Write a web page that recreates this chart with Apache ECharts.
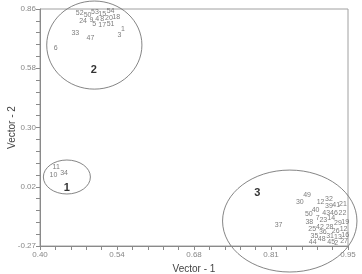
<!DOCTYPE html>
<html>
<head>
<meta charset="utf-8">
<script src="https://cdn.jsdelivr.net/npm/echarts@6/dist/echarts.min.js"></script>
<style>
    html, body { margin: 0; padding: 0; background: #fff; }
    #main { width: 362px; height: 274px; }
</style>
</head>
<body>
<div id="main"></div>
<script>
// cluster 1
var c1Ids = ['11', '10', '34'];
var c1X = [0.429, 0.424, 0.443];
var c1Y = [0.108, 0.069, 0.080];

// cluster 2
var c2Ids = ['52', '50', '53', '15', '54', '24', '9', '4', '8', '20', '18', '5', '17', '51', '1', '3', '33', '47', '6'];
var c2X = [0.471, 0.485, 0.498, 0.511, 0.526, 0.477, 0.492, 0.502, 0.511, 0.523, 0.536, 0.497, 0.511, 0.526, 0.548, 0.542, 0.463, 0.490, 0.428];
var c2Y = [0.840, 0.831, 0.844, 0.836, 0.849, 0.803, 0.808, 0.814, 0.814, 0.817, 0.820, 0.787, 0.782, 0.789, 0.765, 0.735, 0.744, 0.723, 0.676];

// cluster 3
var c3Ids = ['49', '30', '12', '32', '39', '41', '21', '40', '50', '43', '46', '22', '7', '23', '14', '29', '19', '38', '37', '42', '28', '25', '26', '12', '36', '31', '13', '16', '35', '48', '44', '45', '2', '27'];
var c3X = [0.877, 0.864, 0.901, 0.916, 0.916, 0.929, 0.941, 0.892, 0.880, 0.911, 0.925, 0.940, 0.896, 0.906, 0.920, 0.932, 0.945, 0.881, 0.826, 0.900, 0.917, 0.886, 0.928, 0.942, 0.905, 0.918, 0.932, 0.945, 0.890, 0.903, 0.887, 0.920, 0.929, 0.943];
var c3Y = [-0.028, -0.059, -0.062, -0.047, -0.078, -0.073, -0.068, -0.100, -0.119, -0.111, -0.114, -0.114, -0.135, -0.146, -0.138, -0.159, -0.154, -0.157, -0.171, -0.178, -0.178, -0.189, -0.197, -0.188, -0.205, -0.221, -0.226, -0.218, -0.221, -0.238, -0.252, -0.251, -0.257, -0.248];

// axis ticks
var xTickValues = [0.40, 0.5375, 0.675, 0.8125, 0.95];
var xTickLabels = ['0.40', '0.54', '0.68', '0.81', '0.95'];
var yTickValues = [-0.27, 0.0125, 0.295, 0.5775, 0.86];
var yTickLabels = ['-0.27', '0.02', '0.30', '0.58', '0.86'];

// cluster ellipses (centre x, centre y, half width, half height) and group names
var clusterNames = ['1', '2', '3'];
var ellCx = [0.448, 0.497, 0.846];
var ellCy = [0.059, 0.688, -0.151];
var ellRx = [0.042, 0.085, 0.120];
var ellRy = [0.081, 0.210, 0.243];
var nameX = [0.448, 0.496, 0.788];
var nameY = [0.008, 0.569, -0.017];

function pairs(xs, ys, ids) {
    var out = [];
    for (var i = 0; i < xs.length; i++) {
        out.push({ name: ids[i], value: [xs[i], ys[i]] });
    }
    return out;
}

// minor ticks: 5 per label interval
function minorTicks(vals) {
    var out = [];
    for (var i = 0; i < vals.length - 1; i++) {
        var step = (vals[i + 1] - vals[i]) / 5;
        for (var k = 0; k < 5; k++) out.push(vals[i] + step * k);
    }
    out.push(vals[vals.length - 1]);
    return out;
}

function pickLabel(v, vals, labels) {
    var best = 0;
    for (var i = 1; i < vals.length; i++) {
        if (Math.abs(vals[i] - v) < Math.abs(vals[best] - v)) best = i;
    }
    return labels[best];
}

var font = '"Liberation Sans", Arial, sans-serif';
var axisColor = '#8a8a8a';

var pointLabel = {
    show: true,
    position: 'inside',
    formatter: '{b}',
    fontSize: 7,
    fontFamily: '"Liberation Sans Narrow", "Liberation Sans", sans-serif',
    color: '#5a5a5a'
};

function scatter(name, data) {
    return {
        name: name,
        type: 'scatter',
        data: data,
        symbolSize: 1,
        itemStyle: { color: 'rgba(0,0,0,0)' },
        label: pointLabel,
        labelLayout: { hideOverlap: false },
        emphasis: { disabled: true },
        silent: true
    };
}

var chart = echarts.init(document.getElementById('main'));

var option = {
    animation: false,
    grid: {
        left: 40,
        right: 14,
        top: 9,
        bottom: 28,
        outerBoundsMode: 'none',
        containLabel: false,
        show: true,
        borderColor: '#a0a0a0',
        borderWidth: 1
    },
    xAxis: {
        type: 'value',
        min: 0.40,
        max: 0.95,
        name: 'Vector - 1',
        nameLocation: 'middle',
        nameGap: 18,
        nameMoveOverlap: false,
        nameTextStyle: { fontSize: 10, fontFamily: font, color: '#444' },
        axisLine: { show: true, onZero: false, lineStyle: { color: axisColor } },
        axisTick: { show: true, length: 4, customValues: minorTicks(xTickValues), lineStyle: { color: axisColor } },
        axisLabel: {
            customValues: xTickValues,
            fontSize: 8,
            fontFamily: font,
            color: '#888',
            margin: 5,
            formatter: function (v) { return pickLabel(v, xTickValues, xTickLabels); }
        },
        splitLine: { show: false }
    },
    yAxis: {
        type: 'value',
        min: -0.27,
        max: 0.86,
        name: 'Vector - 2',
        nameLocation: 'middle',
        nameGap: 23,
        nameMoveOverlap: false,
        nameTextStyle: { fontSize: 10, fontFamily: font, color: '#444' },
        axisLine: { show: true, onZero: false, lineStyle: { color: axisColor } },
        axisTick: { show: true, length: 4, customValues: minorTicks(yTickValues), lineStyle: { color: axisColor } },
        axisLabel: {
            customValues: yTickValues,
            fontSize: 8,
            fontFamily: font,
            color: '#888',
            margin: 4,
            formatter: function (v) { return pickLabel(v, yTickValues, yTickLabels); }
        },
        splitLine: { show: false }
    },
    series: [
        scatter('c1', pairs(c1X, c1Y, c1Ids)),
        scatter('c2', pairs(c2X, c2Y, c2Ids)),
        scatter('c3', pairs(c3X, c3Y, c3Ids))
    ]
};
chart.setOption(option);

// ellipses around the groups, placed from data coords
var shapes = [];
for (var i = 0; i < ellCx.length; i++) {
    var c = chart.convertToPixel({ gridIndex: 0 }, [ellCx[i], ellCy[i]]);
    var e = chart.convertToPixel({ gridIndex: 0 }, [ellCx[i] + ellRx[i], ellCy[i] + ellRy[i]]);
    shapes.push({
        type: 'ellipse',
        silent: true,
        shape: { cx: c[0], cy: c[1], rx: Math.abs(e[0] - c[0]), ry: Math.abs(e[1] - c[1]) },
        style: { fill: 'none', stroke: '#666', lineWidth: 0.8 }
    });
    var t = chart.convertToPixel({ gridIndex: 0 }, [nameX[i], nameY[i]]);
    shapes.push({
        type: 'text',
        silent: true,
        x: t[0],
        y: t[1],
        style: {
            text: clusterNames[i],
            fontSize: 11,
            fontWeight: 'bold',
            fontFamily: font,
            fill: '#333',
            align: 'center',
            verticalAlign: 'middle'
        }
    });
}
chart.setOption({ graphic: shapes });
</script>
</body>
</html>
